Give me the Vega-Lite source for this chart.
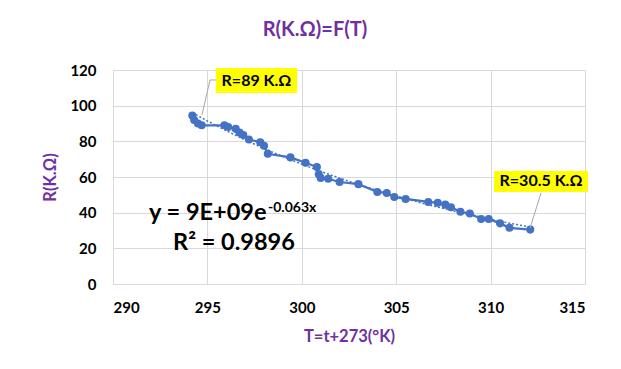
{
  "$schema": "https://vega.github.io/schema/vega-lite/v6.json",
  "width": 472,
  "height": 214,
  "autosize": {"type": "none"},
  "padding": {"left": 113, "top": 70, "right": 36, "bottom": 85},
  "background": "white",
  "title": {
    "text": "R(K.Ω)=F(T)",
    "font": "Lato",
    "fontSize": 20,
    "fontWeight": "bold",
    "color": "#7030A0",
    "anchor": "middle",
    "dx": -34,
    "offset": 23
  },
  "config": {
    "view": {"stroke": null},
    "axis": {
      "gridColor": "#D9D9D9",
      "gridWidth": 1,
      "ticks": false,
      "labelFont": "Lato",
      "labelFontSize": 15,
      "labelFontWeight": "bold",
      "labelColor": "#000000",
      "titleFont": "Lato",
      "titleFontSize": 16.5,
      "titleFontWeight": "bold",
      "titleColor": "#7030A0"
    }
  },
  "datasets": {
    "pts": [
      {"T": 294.2, "R": 94.5}, {"T": 294.3, "R": 92}, {"T": 294.5, "R": 90}, {"T": 294.7, "R": 89},
      {"T": 295.9, "R": 89}, {"T": 296.1, "R": 88}, {"T": 296.5, "R": 87}, {"T": 296.7, "R": 85},
      {"T": 296.9, "R": 83.5}, {"T": 297.2, "R": 81}, {"T": 297.8, "R": 79.5}, {"T": 298.0, "R": 77.5},
      {"T": 298.2, "R": 73}, {"T": 299.4, "R": 71}, {"T": 300.2, "R": 68}, {"T": 300.8, "R": 65.6},
      {"T": 300.9, "R": 61.5}, {"T": 301.0, "R": 59.5}, {"T": 301.4, "R": 59}, {"T": 302.0, "R": 57.2},
      {"T": 303.0, "R": 56}, {"T": 304.0, "R": 51.6}, {"T": 304.5, "R": 51}, {"T": 304.9, "R": 48.8},
      {"T": 305.5, "R": 47.7}, {"T": 306.7, "R": 46}, {"T": 307.2, "R": 45.5}, {"T": 307.6, "R": 44.5},
      {"T": 307.9, "R": 43}, {"T": 308.4, "R": 40.5}, {"T": 308.9, "R": 39.5}, {"T": 309.5, "R": 36.5},
      {"T": 309.9, "R": 36.5}, {"T": 310.5, "R": 34}, {"T": 311.0, "R": 31.5}, {"T": 312.1, "R": 30.5}
    ],
    "leaders": [
      {"g": "a", "o": 1, "T": 294.71, "R": 94.8}, {"g": "a", "o": 2, "T": 295.14, "R": 114.4}, {"g": "a", "o": 3, "T": 295.45, "R": 114.4},
      {"g": "b", "o": 1, "T": 312.09, "R": 31.4}, {"g": "b", "o": 2, "T": 312.67, "R": 51.0}
    ],
    "boxes": [
      {"T1": 295.45, "T2": 299.75, "R1": 107.1, "R2": 121.1, "Tc": 297.6, "Rc": 114.1, "label": "R=89 K.Ω"},
      {"T1": 310.18, "T2": 315.16, "R1": 51.6, "R2": 63.4, "Tc": 312.67, "Rc": 57.5, "label": "R=30.5 K.Ω"}
    ],
    "eq": [{"T": 291.91, "R": 35.9, "label": "y = 9E+09e"}],
    "sup": [{"T": 298.21, "R": 40.4, "label": "-0.063x"}],
    "r2": [{"T": 293.18, "R": 19.07, "label": "R² = 0.9896"}]
  },
  "encoding": {
    "x": {
      "field": "T", "type": "quantitative",
      "scale": {"domain": [290, 315], "nice": false, "zero": false},
      "axis": {"values": [290, 295, 300, 305, 310, 315], "title": "T=t+273(°K)", "labelPadding": 16, "titlePadding": 13, "domainColor": "#D9D9D9"}
    },
    "y": {
      "field": "R", "type": "quantitative",
      "scale": {"domain": [0, 120], "nice": false},
      "axis": {"values": [0, 20, 40, 60, 80, 100, 120], "title": "R(K.Ω)", "labelPadding": 17, "titlePadding": 11, "domain": false}
    }
  },
  "layer": [
    {
      "data": {"name": "pts"},
      "transform": [{"regression": "R", "on": "T", "method": "exp", "extent": [294.2, 312.1]}],
      "mark": {"type": "line", "color": "#4472C4", "strokeWidth": 1.5, "strokeDash": [2, 2]}
    },
    {
      "data": {"name": "pts"},
      "mark": {"type": "line", "color": "#4472C4", "strokeWidth": 2.25, "point": {"filled": true, "size": 65, "color": "#4472C4"}}
    },
    {
      "data": {"name": "leaders"},
      "mark": {"type": "line", "color": "#A6A6A6", "strokeWidth": 1},
      "encoding": {"detail": {"field": "g"}, "order": {"field": "o", "type": "quantitative"}}
    },
    {
      "data": {"name": "boxes"},
      "mark": {"type": "rect", "color": "#FFFF00"},
      "encoding": {
        "x": {"field": "T1", "type": "quantitative"},
        "x2": {"field": "T2"},
        "y": {"field": "R1", "type": "quantitative"},
        "y2": {"field": "R2"}
      }
    },
    {
      "data": {"name": "boxes"},
      "mark": {"type": "text", "font": "Lato", "fontSize": 16, "fontWeight": "bold", "color": "#000000", "align": "center", "baseline": "middle"},
      "encoding": {
        "x": {"field": "Tc", "type": "quantitative"},
        "y": {"field": "Rc", "type": "quantitative"},
        "text": {"field": "label"}
      }
    },
    {
      "data": {"name": "eq"},
      "mark": {"type": "text", "font": "Lato", "fontSize": 23.5, "fontWeight": "bold", "color": "#000000", "align": "left", "baseline": "alphabetic"},
      "encoding": {"text": {"field": "label"}}
    },
    {
      "data": {"name": "sup"},
      "mark": {"type": "text", "font": "Lato", "fontSize": 14, "fontWeight": "bold", "color": "#000000", "align": "left", "baseline": "alphabetic"},
      "encoding": {"text": {"field": "label"}}
    },
    {
      "data": {"name": "r2"},
      "mark": {"type": "text", "font": "Lato", "fontSize": 23.5, "fontWeight": "bold", "color": "#000000", "align": "left", "baseline": "alphabetic"},
      "encoding": {"text": {"field": "label"}}
    }
  ]
}
